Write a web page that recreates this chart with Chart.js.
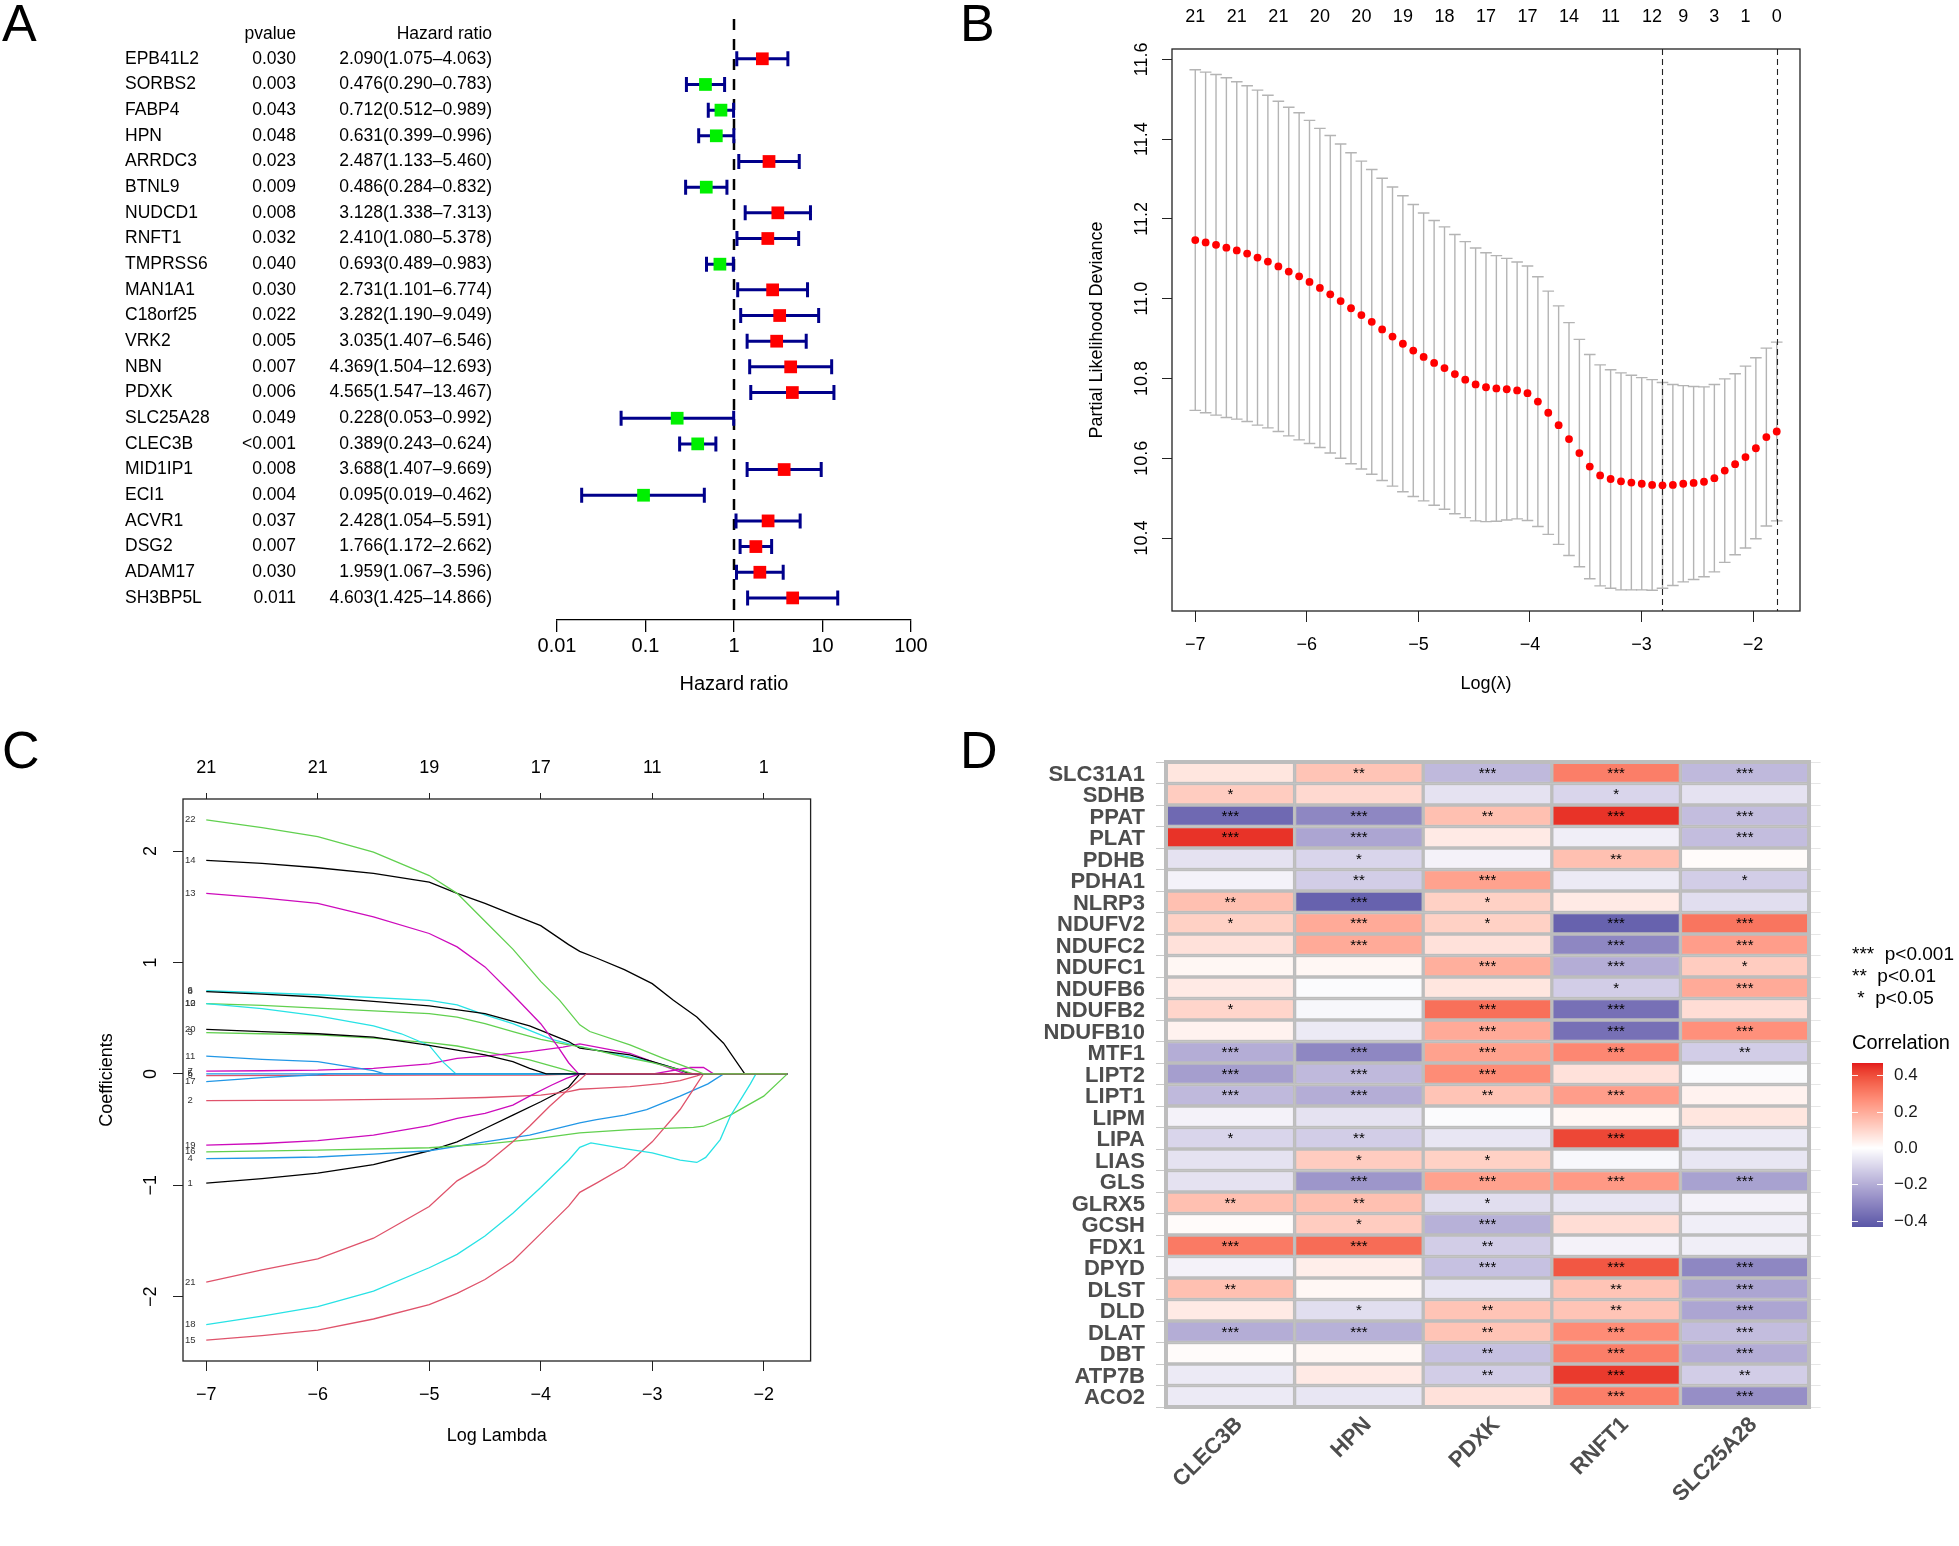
<!DOCTYPE html>
<html>
<head>
<meta charset="utf-8">
<script src="https://cdn.jsdelivr.net/npm/chart.js@4.4.1/dist/chart.umd.min.js"></script>
<style>
html, body { margin: 0; padding: 0; background: #fff; }
#page { position: relative; width: 1959px; height: 1546px; overflow: hidden; background: #fff; }
canvas { position: absolute; }
.tag { position: absolute; font-family: "Liberation Sans", Arial, sans-serif; font-size: 52px; line-height: 1; color: #000; }
</style>
</head>
<body>
<div id="page">
  <canvas id="chartA" width="960" height="720" style="left:0;top:0;width:960px;height:720px"></canvas>
  <canvas id="chartB" width="999" height="720" style="left:960px;top:0;width:999px;height:720px"></canvas>
  <canvas id="chartC" width="960" height="826" style="left:0;top:720px;width:960px;height:826px"></canvas>
  <canvas id="chartD" width="999" height="826" style="left:960px;top:720px;width:999px;height:826px"></canvas>
  <div class="tag" style="left:2px;top:-3px">A</div>
  <div class="tag" style="left:960px;top:-3px">B</div>
  <div class="tag" style="left:2px;top:724px">C</div>
  <div class="tag" style="left:960px;top:724px">D</div>
</div>
<script>
// ---- A: univariate cox forest plot ----
var GENES = ['EPB41L2', 'SORBS2', 'FABP4', 'HPN', 'ARRDC3', 'BTNL9', 'NUDCD1', 'RNFT1', 'TMPRSS6', 'MAN1A1', 'C18orf25',
  'VRK2', 'NBN', 'PDXK', 'SLC25A28', 'CLEC3B', 'MID1IP1', 'ECI1', 'ACVR1', 'DSG2', 'ADAM17', 'SH3BP5L'];
var PVALUES = ['0.030', '0.003', '0.043', '0.048', '0.023', '0.009', '0.008', '0.032', '0.040', '0.030', '0.022',
  '0.005', '0.007', '0.006', '0.049', '<0.001', '0.008', '0.004', '0.037', '0.007', '0.030', '0.011'];
var HR = [2.090, 0.476, 0.712, 0.631, 2.487, 0.486, 3.128, 2.410, 0.693, 2.731, 3.282, 3.035, 4.369, 4.565, 0.228, 0.389, 3.688, 0.095, 2.428, 1.766, 1.959, 4.603];
var HR_LOW = [1.075, 0.290, 0.512, 0.399, 1.133, 0.284, 1.338, 1.080, 0.489, 1.101, 1.190, 1.407, 1.504, 1.547, 0.053, 0.243, 1.407, 0.019, 1.054, 1.172, 1.067, 1.425];
var HR_HIGH = [4.063, 0.783, 0.989, 0.996, 5.460, 0.832, 7.313, 5.378, 0.983, 6.774, 9.049, 6.546, 12.693, 13.467, 0.992, 0.624, 9.669, 0.462, 5.591, 2.662, 3.596, 14.866];
var HR_TICKS = [0.01, 0.1, 1, 10, 100];

// ---- B: cross-validation curve ----
var LAMBDA_B = [-7.000, -6.907, -6.814, -6.721, -6.628, -6.535, -6.442, -6.349, -6.255, -6.162, -6.069, -5.976, -5.883, -5.790,
  -5.697, -5.604, -5.511, -5.418, -5.325, -5.232, -5.139, -5.046, -4.953, -4.859, -4.766, -4.673, -4.580, -4.487, -4.394,
  -4.301, -4.208, -4.115, -4.022, -3.929, -3.836, -3.743, -3.650, -3.557, -3.464, -3.371, -3.277, -3.184, -3.091, -2.998,
  -2.905, -2.812, -2.719, -2.626, -2.533, -2.440, -2.347, -2.254, -2.161, -2.068, -1.975, -1.881, -1.788];
var CVM_B = [11.147, 11.141, 11.135, 11.128, 11.121, 11.113, 11.103, 11.093, 11.081, 11.068, 11.056, 11.042, 11.027, 11.011,
  10.994, 10.976, 10.959, 10.942, 10.923, 10.905, 10.887, 10.870, 10.854, 10.839, 10.826, 10.811, 10.797, 10.785, 10.778,
  10.775, 10.773, 10.770, 10.763, 10.742, 10.714, 10.683, 10.648, 10.613, 10.579, 10.557, 10.548, 10.542, 10.539, 10.536,
  10.533, 10.532, 10.533, 10.536, 10.538, 10.541, 10.550, 10.569, 10.585, 10.603, 10.625, 10.653, 10.667];
var CVSD_B = [0.427, 0.427, 0.427, 0.426, 0.423, 0.421, 0.420, 0.417, 0.414, 0.412, 0.410, 0.405, 0.400, 0.398, 0.394, 0.390,
  0.386, 0.382, 0.379, 0.375, 0.371, 0.366, 0.361, 0.357, 0.354, 0.350, 0.346, 0.342, 0.337, 0.333, 0.328, 0.322, 0.319,
  0.313, 0.305, 0.299, 0.292, 0.285, 0.281, 0.277, 0.274, 0.272, 0.269, 0.266, 0.264, 0.258, 0.252, 0.246, 0.242, 0.238,
  0.235, 0.230, 0.227, 0.228, 0.227, 0.223, 0.224];
var NZ_LAMBDA_B = [-7.000, -6.628, -6.255, -5.883, -5.511, -5.139, -4.766, -4.394, -4.022, -3.650, -3.277, -2.905, -2.626, -2.347, -2.068, -1.788];
var NZ_COUNT_B = [21, 21, 21, 20, 20, 19, 18, 17, 17, 14, 11, 12, 9, 3, 1, 0];
var LAMBDA_MIN = -2.812;
var LAMBDA_1SE = -1.788;
var Y_TICKS_B = [10.4, 10.6, 10.8, 11.0, 11.2, 11.4, 11.6];
var X_TICKS = [-7, -6, -5, -4, -3, -2];

// ---- C: coefficient paths (log lambda, coefficient) ----
var VAR_IDS = [1, 2, 3, 4, 5, 6, 7, 8, 9, 10, 11, 12, 13, 14, 15, 16, 17, 18, 19, 20, 21, 22];
var VAR_COLORS = ['#000000', '#DF536B', '#61D04F', '#2297E6', '#2297E6', '#28E2E5', '#CD0BBC', '#000000', '#DF536B', '#61D04F', '#2297E6',
  '#28E2E5', '#CD0BBC', '#000000', '#DF536B', '#61D04F', '#2297E6', '#28E2E5', '#CD0BBC', '#000000', '#DF536B', '#61D04F'];
var COEF_PATHS = [
  [[-7, -0.98], [-6.5, -0.94], [-6, -0.89], [-5.5, -0.815], [-5, -0.69], [-4.75, -0.61], [-4.5, -0.49], [-4.25, -0.37], [-4, -0.25], [-3.75, -0.12], [-3.65, 0], [-1.788, 0]],
  [[-7, -0.24], [-6, -0.236], [-5, -0.225], [-4.5, -0.212], [-4, -0.19], [-3.75, -0.16], [-3.65, -0.138], [-3.5, -0.13], [-3.2, -0.115], [-2.9, -0.085], [-2.75, -0.06], [-2.6, -0.018], [-2.55, 0], [-1.788, 0]],
  [[-7, 0.37], [-6.5, 0.36], [-6, 0.35], [-5.5, 0.32], [-5, 0.28], [-4.75, 0.25], [-4.5, 0.2], [-4.1, 0.126], [-3.9, 0.07], [-3.65, 0], [-1.788, 0]],
  [[-7, -0.76], [-6.5, -0.755], [-6, -0.746], [-5.5, -0.72], [-5, -0.69], [-4.5, -0.61], [-4.1, -0.55], [-3.65, -0.44], [-3.5, -0.41], [-3.25, -0.37], [-3.05, -0.32], [-2.75, -0.2], [-2.5, -0.09], [-2.36, 0], [-1.788, 0]],
  [[-7, 0], [-1.788, 0]],
  [[-7, 0.746], [-6, 0.71], [-5, 0.66], [-4.75, 0.62], [-4.5, 0.53], [-4.25, 0.45], [-4.1, 0.39], [-3.9, 0.31], [-3.65, 0.245], [-3.2, 0.15], [-2.9, 0.08], [-2.65, 0], [-1.788, 0]],
  [[-7, 0.025], [-6.5, 0.028], [-6, 0.033], [-5.5, 0.05], [-5, 0.09], [-4.75, 0.14], [-4.5, 0.16], [-4.1, 0.2], [-3.8, 0.24], [-3.65, 0.27], [-3.2, 0.185], [-2.8, 0.036], [-2.7, 0], [-1.788, 0]],
  [[-7, 0.738], [-6.5, 0.715], [-6, 0.69], [-5.5, 0.65], [-5, 0.61], [-4.5, 0.54], [-4.1, 0.43], [-3.95, 0.37], [-3.75, 0.29], [-3.65, 0.23], [-3.2, 0.17], [-2.75, 0.036], [-2.66, 0], [-1.788, 0]],
  [[-7, -0.015], [-5, -0.012], [-4, -0.01], [-3.65, 0], [-1.788, 0]],
  [[-7, 0.63], [-6.5, 0.615], [-6, 0.59], [-5.5, 0.565], [-5, 0.54], [-4.75, 0.51], [-4.5, 0.45], [-4.25, 0.38], [-4, 0.31], [-3.75, 0.26], [-3.65, 0.245], [-3.5, 0.21], [-3.25, 0.15], [-3, 0.1], [-2.75, 0.035], [-2.63, 0], [-1.788, 0]],
  [[-7, 0.16], [-6.5, 0.13], [-6, 0.11], [-5.75, 0.07], [-5.5, 0.03], [-5.4, 0], [-1.788, 0]],
  [[-7, 0.63], [-6.5, 0.585], [-6, 0.52], [-5.5, 0.43], [-5.25, 0.36], [-5, 0.255], [-4.88, 0.11], [-4.76, 0], [-1.788, 0]],
  [[-7, 1.62], [-6.5, 1.58], [-6, 1.53], [-5.5, 1.41], [-5, 1.26], [-4.75, 1.14], [-4.5, 0.96], [-4.25, 0.71], [-4, 0.45], [-3.85, 0.25], [-3.75, 0.1], [-3.66, 0], [-2.99, 0], [-2.66, 0.057], [-2.54, 0.057], [-2.45, 0], [-1.788, 0]],
  [[-7, 1.916], [-6.5, 1.89], [-6, 1.85], [-5.5, 1.8], [-5, 1.72], [-4.75, 1.62], [-4.5, 1.53], [-4.25, 1.43], [-4, 1.33], [-3.75, 1.16], [-3.65, 1.1], [-3.5, 1.04], [-3.25, 0.935], [-3, 0.81], [-2.81, 0.66], [-2.6, 0.51], [-2.36, 0.275], [-2.17, 0], [-1.788, 0]],
  [[-7, -2.39], [-6.5, -2.35], [-6, -2.3], [-5.5, -2.2], [-5, -2.07], [-4.75, -1.97], [-4.5, -1.846], [-4.25, -1.68], [-4, -1.434], [-3.75, -1.187], [-3.65, -1.063], [-3.5, -0.98], [-3.25, -0.836], [-3, -0.61], [-2.75, -0.32], [-2.54, 0], [-1.788, 0]],
  [[-7, -0.7], [-6, -0.684], [-5, -0.663], [-4.5, -0.63], [-4.1, -0.59], [-3.65, -0.53], [-3.2, -0.5], [-2.63, -0.48], [-2.54, -0.47], [-2.3, -0.37], [-2, -0.2], [-1.788, 0]],
  [[-7, -0.07], [-6.5, -0.033], [-6, -0.008], [-5.9, 0], [-1.788, 0]],
  [[-7, -2.25], [-6.5, -2.175], [-6, -2.09], [-5.5, -1.95], [-5, -1.74], [-4.75, -1.62], [-4.5, -1.455], [-4.25, -1.25], [-4, -1.02], [-3.75, -0.775], [-3.65, -0.66], [-3.55, -0.62], [-3.25, -0.67], [-3, -0.71], [-2.75, -0.775], [-2.6, -0.795], [-2.52, -0.75], [-2.39, -0.59], [-2.3, -0.38], [-2.2, -0.22], [-2.12, -0.09], [-2.07, 0], [-1.788, 0]],
  [[-7, -0.64], [-6.5, -0.625], [-6, -0.6], [-5.5, -0.55], [-5, -0.465], [-4.75, -0.4], [-4.5, -0.355], [-4.25, -0.28], [-4.1, -0.2], [-3.9, -0.1], [-3.77, -0.04], [-3.65, 0], [-1.788, 0]],
  [[-7, 0.4], [-6.5, 0.38], [-6, 0.36], [-5.5, 0.33], [-5, 0.255], [-4.5, 0.17], [-4.25, 0.11], [-4.1, 0.05], [-3.95, 0], [-1.788, 0]],
  [[-7, -1.87], [-6.5, -1.76], [-6, -1.66], [-5.5, -1.475], [-5, -1.19], [-4.75, -0.96], [-4.5, -0.815], [-4.25, -0.61], [-4.1, -0.47], [-3.92, -0.29], [-3.74, -0.13], [-3.65, -0.054], [-3.59, 0], [-1.788, 0]],
  [[-7, 2.28], [-6.5, 2.21], [-6, 2.13], [-5.5, 1.99], [-5, 1.78], [-4.75, 1.62], [-4.5, 1.37], [-4.25, 1.12], [-4, 0.83], [-3.83, 0.66], [-3.65, 0.44], [-3.56, 0.38], [-3.2, 0.26], [-2.9, 0.14], [-2.66, 0.05], [-2.54, 0], [-1.788, 0]]
];
var NZ_COUNT_C = [21, 21, 19, 17, 11, 1];
var Y_TICKS_C = [-2, -1, 0, 1, 2];

// ---- D: correlation heatmap ----
var ROWS = ['SLC31A1', 'SDHB', 'PPAT', 'PLAT', 'PDHB', 'PDHA1', 'NLRP3', 'NDUFV2', 'NDUFC2', 'NDUFC1', 'NDUFB6', 'NDUFB2', 'NDUFB10',
  'MTF1', 'LIPT2', 'LIPT1', 'LIPM', 'LIPA', 'LIAS', 'GLS', 'GLRX5', 'GCSH', 'FDX1', 'DPYD', 'DLST', 'DLD', 'DLAT', 'DBT', 'ATP7B', 'ACO2'];
var COLS = ['CLEC3B', 'HPN', 'PDXK', 'RNFT1', 'SLC25A28'];
var COR_CLEC3B = [0.06, 0.12, -0.38, 0.44, -0.07, -0.03, 0.15, 0.11, 0.07, 0.02, 0.05, 0.10, 0.03, -0.20, -0.24, -0.17, -0.03, -0.10, -0.07, -0.07, 0.15, 0.01, 0.31, -0.03, 0.15, 0.05, -0.20, 0.01, -0.05, -0.05];
var COR_HPN = [0.14, 0.09, -0.30, -0.22, -0.10, -0.12, -0.40, 0.20, 0.20, 0.02, -0.01, -0.02, -0.05, -0.30, -0.17, -0.20, -0.07, -0.12, 0.12, -0.26, 0.15, 0.12, 0.34, 0.04, 0.02, -0.08, -0.19, 0.02, 0.05, -0.06];
var COR_PDXK = [-0.17, -0.07, 0.15, 0.05, -0.03, 0.22, 0.11, 0.11, 0.07, 0.19, 0.06, 0.33, 0.20, 0.22, 0.27, 0.14, -0.01, -0.06, 0.11, 0.22, -0.08, -0.19, -0.12, -0.15, -0.06, 0.14, 0.14, -0.15, -0.12, 0.07];
var COR_RNFT1 = [0.30, -0.10, 0.44, -0.04, 0.15, -0.05, 0.05, -0.40, -0.30, -0.20, -0.12, -0.36, -0.36, 0.28, 0.07, 0.23, 0.02, 0.41, -0.02, 0.24, -0.06, 0.08, -0.03, 0.38, 0.14, 0.14, 0.27, 0.30, 0.43, 0.30];
var COR_SLC25A28 = [-0.17, -0.07, -0.16, -0.16, 0.01, -0.12, -0.08, 0.32, 0.23, 0.12, 0.20, 0.08, 0.26, -0.12, -0.01, 0.03, 0.06, -0.05, -0.06, -0.23, -0.03, -0.04, -0.04, -0.30, -0.22, -0.22, -0.16, -0.20, -0.12, -0.28];
var SIG_CLEC3B = ['', '*', '***', '***', '', '', '**', '*', '', '', '', '*', '', '***', '***', '***', '', '*', '', '', '**', '', '***', '', '**', '', '***', '', '', ''];
var SIG_HPN = ['**', '', '***', '***', '*', '**', '***', '***', '***', '', '', '', '', '***', '***', '***', '', '**', '*', '***', '**', '*', '***', '', '', '*', '***', '', '', ''];
var SIG_PDXK = ['***', '', '**', '', '', '***', '*', '*', '', '***', '', '***', '***', '***', '***', '**', '', '', '*', '***', '*', '***', '**', '***', '', '**', '**', '**', '**', ''];
var SIG_RNFT1 = ['***', '*', '***', '', '**', '', '', '***', '***', '***', '*', '***', '***', '***', '', '***', '', '***', '', '***', '', '', '', '***', '**', '**', '***', '***', '***', '***'];
var SIG_SLC25A28 = ['***', '', '***', '***', '', '*', '', '***', '***', '*', '***', '', '***', '**', '', '', '', '', '', '***', '', '', '', '***', '***', '***', '***', '***', '**', '***'];
var COR_LIMIT = 0.466;
var LEGEND_TICKS = [0.4, 0.2, 0.0, -0.2, -0.4];

var FONT = '"Liberation Sans", Arial, Helvetica, sans-serif';
Chart.defaults.font.family = FONT;
Chart.defaults.font.size = 18;
Chart.defaults.color = '#000';
Chart.defaults.animation = false;

function minus(v) { return v < 0 ? '\u2212' + Math.abs(v) : String(v); }
function fixTicks(values) { return function (s) { s.ticks = values.map(function (v) { return { value: v }; }); }; }
var NO_PLUGINS = { legend: { display: false }, tooltip: { enabled: false } };

// ---------- Panel A ----------
var forestPlugin = {
  id: 'forest',
  beforeDatasetsDraw: function (chart) {
    var ctx = chart.ctx, xs = chart.scales.x, ys = chart.scales.y, area = chart.chartArea;
    ctx.save();
    var x1 = xs.getPixelForValue(1);
    ctx.strokeStyle = '#000';
    ctx.lineWidth = 2.5;
    ctx.setLineDash([11, 9]);
    ctx.beginPath();
    ctx.moveTo(x1, area.top);
    ctx.lineTo(x1, ys.getPixelForValue(22.5));
    ctx.stroke();
    ctx.setLineDash([]);
    ctx.strokeStyle = '#00008b';
    ctx.lineWidth = 3;
    for (var i = 0; i < GENES.length; i++) {
      var py = ys.getPixelForValue(i + 1);
      var xa = xs.getPixelForValue(HR_LOW[i]);
      var xb = xs.getPixelForValue(HR_HIGH[i]);
      ctx.beginPath();
      ctx.moveTo(xa, py); ctx.lineTo(xb, py);
      ctx.moveTo(xa, py - 7.5); ctx.lineTo(xa, py + 7.5);
      ctx.moveTo(xb, py - 7.5); ctx.lineTo(xb, py + 7.5);
      ctx.stroke();
    }
    ctx.restore();
  },
  afterDraw: function (chart) {
    var ctx = chart.ctx, ys = chart.scales.y;
    ctx.save();
    ctx.fillStyle = '#000';
    ctx.font = '17.5px ' + FONT;
    ctx.textBaseline = 'middle';
    ctx.textAlign = 'right';
    ctx.fillText('pvalue', 296, 34);
    ctx.fillText('Hazard ratio', 492, 34);
    for (var i = 0; i < GENES.length; i++) {
      var py = ys.getPixelForValue(i + 1);
      ctx.textAlign = 'left';
      ctx.fillText(GENES[i], 125, py);
      ctx.textAlign = 'right';
      ctx.fillText(PVALUES[i], 296, py);
      ctx.fillText(HR[i].toFixed(3) + '(' + HR_LOW[i].toFixed(3) + '\u2013' + HR_HIGH[i].toFixed(3) + ')', 492, py);
    }
    ctx.restore();
  }
};

new Chart(document.getElementById('chartA'), {
  type: 'scatter',
  data: {
    datasets: [{
      data: HR.map(function (v, i) { return { x: v, y: i + 1 }; }),
      pointStyle: 'rect',
      pointRadius: 9,
      borderWidth: 0,
      backgroundColor: HR.map(function (v) { return v > 1 ? '#ff0000' : '#00f000'; })
    }]
  },
  options: {
    responsive: false,
    events: [],
    layout: { padding: { left: 557, right: 49, top: 19, bottom: 0 } },
    plugins: NO_PLUGINS,
    scales: {
      x: {
        type: 'logarithmic', min: 0.01, max: 100,
        afterBuildTicks: fixTicks(HR_TICKS),
        afterFit: function (s) { s.height = 100; },
        ticks: { font: { size: 20 }, padding: 2.5, autoSkip: false, maxRotation: 0, callback: function (v) { return String(v); } },
        grid: { drawOnChartArea: false, tickLength: 12, color: '#000', lineWidth: 1.3 },
        border: { display: true, color: '#000', width: 1.3 },
        title: { display: true, text: 'Hazard ratio', font: { size: 20 }, padding: { top: 0, bottom: 24 } }
      },
      y: { type: 'linear', min: -0.55, max: 22.86, reverse: true, display: false }
    }
  },
  plugins: [forestPlugin]
});

// ---------- Panel B ----------
var cvPlugin = {
  id: 'cvbars',
  beforeDatasetsDraw: function (chart) {
    var ctx = chart.ctx, xs = chart.scales.x, ys = chart.scales.y, area = chart.chartArea;
    var capHalf = xs.getPixelForValue(-7 + 0.052) - xs.getPixelForValue(-7);
    ctx.save();
    ctx.strokeStyle = '#b4b4b4';
    ctx.lineWidth = 1.4;
    for (var i = 0; i < LAMBDA_B.length; i++) {
      var px = xs.getPixelForValue(LAMBDA_B[i]);
      var yUp = ys.getPixelForValue(CVM_B[i] + CVSD_B[i]);
      var yLo = ys.getPixelForValue(CVM_B[i] - CVSD_B[i]);
      ctx.beginPath();
      ctx.moveTo(px, yUp); ctx.lineTo(px, yLo);
      ctx.moveTo(px - capHalf, yUp); ctx.lineTo(px + capHalf, yUp);
      ctx.moveTo(px - capHalf, yLo); ctx.lineTo(px + capHalf, yLo);
      ctx.stroke();
    }
    ctx.strokeStyle = '#222';
    ctx.lineWidth = 1.1;
    ctx.setLineDash([6, 4]);
    [LAMBDA_MIN, LAMBDA_1SE].forEach(function (l) {
      var px = Math.round(xs.getPixelForValue(l)) + 0.5;
      ctx.beginPath(); ctx.moveTo(px, area.top); ctx.lineTo(px, area.bottom); ctx.stroke();
    });
    ctx.restore();
  },
  afterDraw: function (chart) {
    var ctx = chart.ctx, a = chart.chartArea;
    ctx.save();
    ctx.strokeStyle = '#222';
    ctx.lineWidth = 1.3;
    ctx.strokeRect(a.left, a.top, a.right - a.left, a.bottom - a.top);
    ctx.restore();
  }
};

new Chart(document.getElementById('chartB'), {
  type: 'scatter',
  data: {
    datasets: [{
      data: LAMBDA_B.map(function (l, i) { return { x: l, y: CVM_B[i] }; }),
      pointRadius: 3.9, borderWidth: 0, backgroundColor: '#ff0000'
    }]
  },
  options: {
    responsive: false,
    events: [],
    layout: { padding: { left: 0, right: 159, top: 0, bottom: 0 } },
    plugins: NO_PLUGINS,
    scales: {
      x: {
        type: 'linear', position: 'bottom', min: -7.2085, max: -1.5795,
        afterBuildTicks: fixTicks(X_TICKS),
        afterFit: function (s) { s.height = 109; },
        ticks: { padding: 12.2, autoSkip: false, maxRotation: 0, callback: function (v) { return minus(v); } },
        grid: { drawOnChartArea: false, tickLength: 11, color: '#222' },
        border: { display: false },
        title: { display: true, text: 'Log(\u03bb)', padding: { top: 0, bottom: 25 } }
      },
      x2: {
        type: 'linear', position: 'top', min: -7.2085, max: -1.5795,
        afterBuildTicks: fixTicks(NZ_LAMBDA_B),
        afterFit: function (s) { s.height = 49; },
        ticks: { padding: 20.8, autoSkip: false, maxRotation: 0, callback: function (v, i) { return String(NZ_COUNT_B[i]); } },
        grid: { display: false, drawTicks: false },
        border: { display: false }
      },
      y: {
        type: 'linear', min: 10.217, max: 11.626,
        afterBuildTicks: fixTicks(Y_TICKS_B),
        afterFit: function (s) { s.width = 212; },
        ticks: { minRotation: 90, maxRotation: 90, crossAlign: 'center', padding: 2.9, callback: function (v) { return v.toFixed(1); } },
        grid: { drawOnChartArea: false, tickLength: 10, color: '#222' },
        border: { display: false },
        title: { display: true, text: 'Partial Likelihood Deviance', padding: { top: 126, bottom: 0 } }
      }
    }
  },
  plugins: [cvPlugin]
});

// ---------- Panel C ----------
var pathPlugin = {
  id: 'paths',
  afterDraw: function (chart) {
    var ctx = chart.ctx, xs = chart.scales.x, ys = chart.scales.y, a = chart.chartArea;
    ctx.save();
    ctx.strokeStyle = '#222';
    ctx.lineWidth = 1.3;
    ctx.strokeRect(a.left, a.top, a.right - a.left, a.bottom - a.top);
    ctx.fillStyle = '#333';
    ctx.font = '9.5px ' + FONT;
    ctx.textAlign = 'center';
    ctx.textBaseline = 'middle';
    var lx = xs.getPixelForValue(-7) - 16;
    for (var i = 0; i < VAR_IDS.length; i++) {
      ctx.fillText(String(VAR_IDS[i]), lx, ys.getPixelForValue(COEF_PATHS[i][0][1]));
    }
    ctx.restore();
  }
};

new Chart(document.getElementById('chartC'), {
  type: 'scatter',
  data: {
    datasets: COEF_PATHS.map(function (pts, i) {
      return {
        data: pts.map(function (p) { return { x: p[0], y: p[1] }; }),
        showLine: true, pointRadius: 0, borderWidth: 1.3, tension: 0,
        borderColor: VAR_COLORS[i], backgroundColor: VAR_COLORS[i],
        order: VAR_IDS.length - VAR_IDS[i]
      };
    })
  },
  options: {
    responsive: false,
    events: [],
    layout: { padding: { left: 0, right: 149.4, top: 0, bottom: 0 } },
    plugins: NO_PLUGINS,
    scales: {
      x: {
        type: 'linear', position: 'bottom', min: -7.2085, max: -1.5795,
        afterBuildTicks: fixTicks(X_TICKS),
        afterFit: function (s) { s.height = 185; },
        ticks: { padding: 13.2, autoSkip: false, maxRotation: 0, callback: function (v) { return minus(v); } },
        grid: { drawOnChartArea: false, tickLength: 10, color: '#222' },
        border: { display: false },
        title: { display: true, text: 'Log Lambda', padding: { top: 0, bottom: 99 } }
      },
      x2: {
        type: 'linear', position: 'top', min: -7.2085, max: -1.5795,
        afterBuildTicks: fixTicks(X_TICKS),
        afterFit: function (s) { s.height = 79; },
        ticks: { padding: 14.2, autoSkip: false, maxRotation: 0, callback: function (v, i) { return String(NZ_COUNT_C[i]); } },
        grid: { drawOnChartArea: false, tickLength: 6, color: '#222' },
        border: { display: false }
      },
      y: {
        type: 'linear', min: -2.577, max: 2.467,
        afterBuildTicks: fixTicks(Y_TICKS_C),
        afterFit: function (s) { s.width = 183; },
        ticks: { minRotation: 90, maxRotation: 90, crossAlign: 'center', padding: 11.7, callback: function (v) { return minus(v); } },
        grid: { drawOnChartArea: false, tickLength: 10, color: '#222' },
        border: { display: false },
        title: { display: true, text: 'Coefficients', padding: { top: 96.7, bottom: 0 } }
      }
    }
  },
  plugins: [pathPlugin]
});

// ---------- Panel D ----------
var WHITE = [255, 255, 255], HIGH = [228, 26, 28], LOW = [75, 75, 160];
function toLin(c) { c /= 255; return c <= 0.04045 ? c / 12.92 : Math.pow((c + 0.055) / 1.055, 2.4); }
function toSrgb(c) { c = c <= 0.0031308 ? 12.92 * c : 1.055 * Math.pow(c, 1 / 2.4) - 0.055; return Math.round(Math.max(0, Math.min(1, c)) * 255); }
function rgbToLab(rgb) {
  var r = toLin(rgb[0]), g = toLin(rgb[1]), b = toLin(rgb[2]);
  var X = (0.4124 * r + 0.3576 * g + 0.1805 * b) / 0.95047, Y = 0.2126 * r + 0.7152 * g + 0.0722 * b, Z = (0.0193 * r + 0.1192 * g + 0.9505 * b) / 1.08883;
  function f(t) { return t > 0.008856 ? Math.cbrt(t) : 7.787 * t + 16 / 116; }
  var fx = f(X), fy = f(Y), fz = f(Z);
  return [116 * fy - 16, 500 * (fx - fy), 200 * (fy - fz)];
}
function labToRgb(lab) {
  var fy = (lab[0] + 16) / 116, fx = fy + lab[1] / 500, fz = fy - lab[2] / 200;
  function fi(t) { var t3 = t * t * t; return t3 > 0.008856 ? t3 : (t - 16 / 116) / 7.787; }
  var X = fi(fx) * 0.95047, Y = fi(fy), Z = fi(fz) * 1.08883;
  return [toSrgb(3.2406 * X - 1.5372 * Y - 0.4986 * Z), toSrgb(-0.9689 * X + 1.8758 * Y + 0.0415 * Z), toSrgb(0.0557 * X - 0.2040 * Y + 1.0570 * Z)];
}
var LAB_W = rgbToLab(WHITE), LAB_H = rgbToLab(HIGH), LAB_L = rgbToLab(LOW);
function corColor(v) {
  var t = Math.max(-1, Math.min(1, v / COR_LIMIT));
  var end = t >= 0 ? LAB_H : LAB_L, k = Math.abs(t);
  var c = labToRgb([0, 1, 2].map(function (j) { return LAB_W[j] + (end[j] - LAB_W[j]) * k; }));
  return 'rgb(' + c.join(',') + ')';
}

var COR_COLS = [COR_CLEC3B, COR_HPN, COR_PDXK, COR_RNFT1, COR_SLC25A28];
var SIG_COLS = [SIG_CLEC3B, SIG_HPN, SIG_PDXK, SIG_RNFT1, SIG_SLC25A28];

var heatPlugin = {
  id: 'heat',
  afterDatasetsDraw: function (chart) {
    var ctx = chart.ctx, xs = chart.scales.x, ys = chart.scales.y;
    ctx.save();
    ctx.fillStyle = '#000';
    ctx.font = '15px ' + FONT;
    ctx.textAlign = 'center';
    ctx.textBaseline = 'middle';
    for (var c = 0; c < COLS.length; c++) {
      for (var r = 0; r < ROWS.length; r++) {
        if (SIG_COLS[c][r]) ctx.fillText(SIG_COLS[c][r], xs.getPixelForValue(c + 0.5), ys.getPixelForValue(r) + 1);
      }
    }
    var half = (ys.getPixelForValue(1) - ys.getPixelForValue(0)) / 2;
    var x0 = xs.getPixelForValue(0), x1 = xs.getPixelForValue(COLS.length);
    var y0 = ys.getPixelForValue(0) - half, y1 = ys.getPixelForValue(ROWS.length - 1) + half;
    ctx.strokeStyle = '#bdbdbd';
    ctx.lineWidth = 4;
    ctx.strokeRect(x0, y0, x1 - x0, y1 - y0);
    ctx.restore();
  },
  afterDraw: function (chart) {
    var ctx = chart.ctx;
    var ox = 960, oy = 720;
    ctx.save();
    ctx.fillStyle = '#000';
    ctx.textBaseline = 'middle';
    ctx.textAlign = 'left';
    ctx.font = '19px ' + FONT;
    ctx.fillText('***  p<0.001', 1852 - ox, 955 - oy);
    ctx.fillText('**  p<0.01', 1852 - ox, 977 - oy);
    ctx.fillText(' *  p<0.05', 1852 - ox, 999 - oy);
    ctx.font = '20px ' + FONT;
    ctx.fillText('Correlation', 1852 - ox, 1043 - oy);
    var barL = 1852 - ox, barR = 1883 - ox;
    function vy(v) { return 1148 - oy - v * 182; }
    var top = vy(COR_LIMIT), bot = vy(-0.434);
    for (var y = Math.floor(top); y < bot; y++) {
      ctx.fillStyle = corColor((1148 - oy - (y + 0.5)) / 182);
      ctx.fillRect(barL, y, barR - barL, 1);
    }
    ctx.strokeStyle = 'rgba(255,255,255,0.9)';
    ctx.lineWidth = 1;
    ctx.font = '17px ' + FONT;
    ctx.fillStyle = '#1a1a1a';
    LEGEND_TICKS.forEach(function (v) {
      var py = Math.round(vy(v)) + 0.5;
      ctx.beginPath();
      ctx.moveTo(barL, py); ctx.lineTo(barL + 6, py);
      ctx.moveTo(barR - 6, py); ctx.lineTo(barR, py);
      ctx.stroke();
      ctx.fillText(v === 0 ? '0.0' : minus(v.toFixed(1)).replace('\u2212-', '\u2212'), 1894 - ox, py);
    });
    ctx.restore();
  }
};

new Chart(document.getElementById('chartD'), {
  type: 'bar',
  data: {
    labels: ROWS,
    datasets: COLS.map(function (name, c) {
      return {
        label: name,
        data: ROWS.map(function () { return [c, c + 1]; }),
        backgroundColor: COR_COLS[c].map(corColor),
        borderColor: '#bdbdbd',
        borderWidth: 2,
        borderSkipped: false,
        grouped: false,
        barPercentage: 1,
        categoryPercentage: 1
      };
    })
  },
  options: {
    indexAxis: 'y',
    responsive: false,
    events: [],
    layout: { padding: { left: 0, right: 138.4, top: 42, bottom: 0 } },
    plugins: NO_PLUGINS,
    scales: {
      x: {
        type: 'linear', min: 0, max: 5.09,
        afterBuildTicks: fixTicks([0.5, 1.5, 2.5, 3.5, 4.5]),
        afterFit: function (s) { s.height = 139; },
        ticks: {
          autoSkip: false, minRotation: 45, maxRotation: 45, padding: 5, labelOffset: 9, color: '#4d4d4d',
          font: { size: 22, weight: 'bold' },
          callback: function (v) { return COLS[Math.floor(v)]; }
        },
        grid: { display: false, drawTicks: false },
        border: { display: false }
      },
      y: {
        type: 'category',
        afterFit: function (s) { s.width = 206; },
        ticks: { autoSkip: false, padding: 11, labelOffset: 2, color: '#4d4d4d', font: { size: 22, weight: 'bold' } },
        grid: { color: '#e6e6e6', tickColor: '#c8c8c8', tickLength: 10 },
        border: { display: false }
      }
    }
  },
  plugins: [heatPlugin]
});
</script>
</body>
</html>
